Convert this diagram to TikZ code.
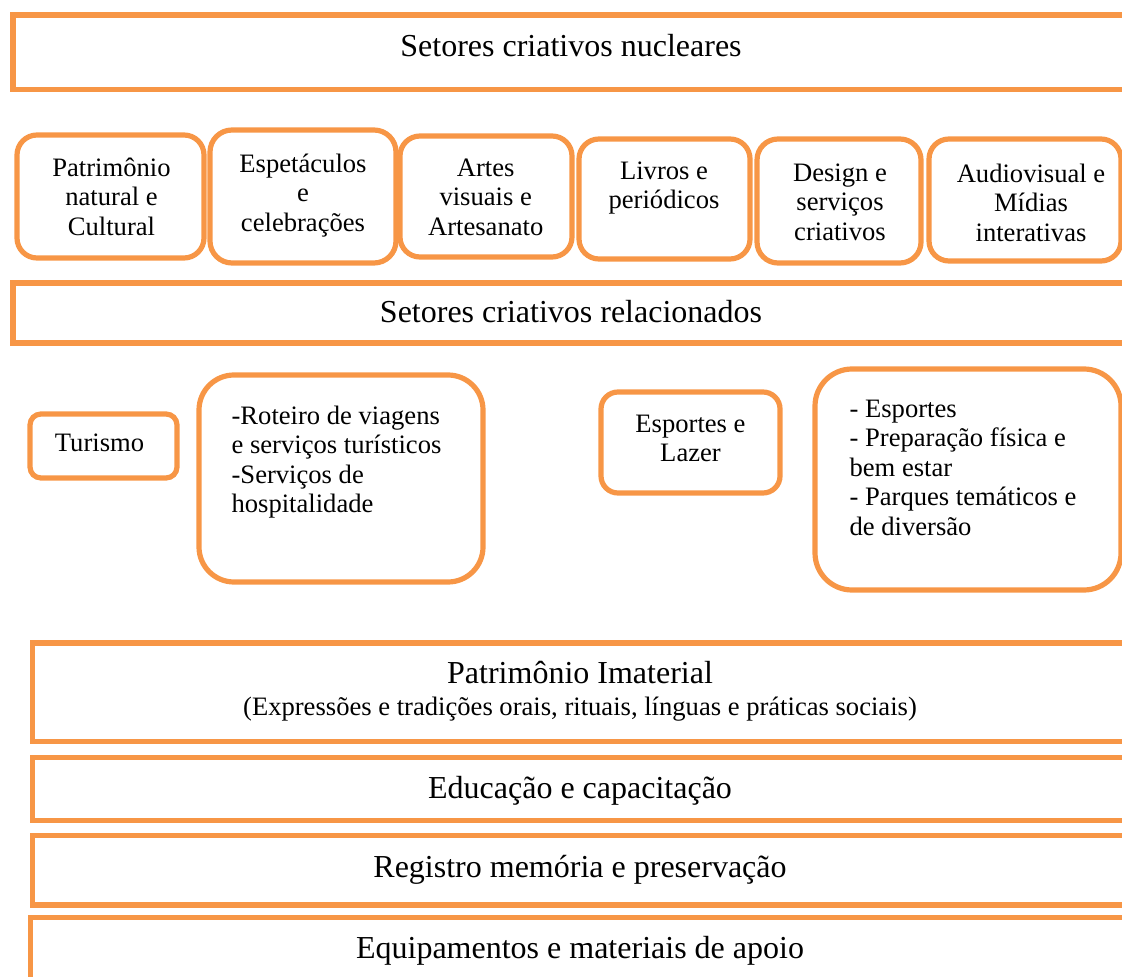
\documentclass[tikz,border=0pt]{standalone}
\usepackage{fontspec}
\setmainfont{Liberation Serif}
\definecolor{orangeline}{HTML}{F79646}
\begin{document}
\begin{tikzpicture}
[ x=0.5pt, y=-0.5pt, line width=2.6pt
, band/.style={rectangle, draw=orangeline, inner sep=0pt}
, sector/.style={rectangle, draw=orangeline, inner sep=0pt, rounded corners=#1*0.5pt}
, boxdim/.style 2 args={minimum width=#1*0.5pt, minimum height=#2*0.5pt}
, bigtext/.style={font=\fontsize{16}{18}\selectfont, inner sep=0pt, anchor=base}
, smalltext/.style={font=\fontsize{13.3}{14.8}\selectfont, inner sep=0pt, anchor=north, align=center}
, listtext/.style={smalltext, anchor=north west, align=left}
]
\clip (0,0) rectangle (1122,977);
% Wide bands:
\node (nucleares) [band, boxdim={1116}{74.5}] at (571,52.25) {};
\node (nuclearestxt) [bigtext] at (571,57) {Setores criativos nucleares};
\node (relacionados) [band, boxdim={1116}{60}] at (571,313) {};
\node (relacionadostxt) [bigtext] at (571,323) {Setores criativos relacionados};
% Core sectors:
\node (patnat) [sector=20, boxdim={187}{123}] at (110.5,196.5) {};
\node (patnattxt) [smalltext] at (111.5,155) {Patrimônio\\natural e\\Cultural};
\node (espet) [sector=22, boxdim={186}{133}] at (303,196.5) {};
\node (espettxt) [smalltext] at (303,151) {Espetáculos\\e\\celebrações};
\node (artes) [sector=20, boxdim={172}{121}] at (486,196.5) {};
\node (artestxt) [smalltext] at (485.7,156) {Artes\\visuais e\\Artesanato};
\node (livros) [sector=20, boxdim={171}{120}] at (664.5,199) {};
\node (livrostxt) [smalltext] at (664,159) {Livros e\\periódicos};
\node (design) [sector=21, boxdim={164}{124}] at (839,201) {};
\node (designtxt) [smalltext] at (840,161) {Design e\\serviços\\criativos};
\node (audio) [sector=20, boxdim={192}{122}] at (1025,200) {};
\node (audiotxt) [smalltext] at (1031,161) {Audiovisual e\\Mídias\\interativas};
% Related sectors:
\node (turismo) [sector=11, boxdim={147}{64}] at (103.5,446) {};
\node (turismotxt) [smalltext, anchor=base] at (99.5,451.7) {Turismo};
\node (roteiro) [sector=35, boxdim={284}{207}] at (341,478.5) {};
\node (roteirotxt) [listtext] at (229,403) {-Roteiro de viagens\\e serviços turísticos\\-Serviços de\\hospitalidade};
\node (lazer) [sector=17, boxdim={179}{101}] at (690.5,442.5) {};
\node (lazertxt) [smalltext] at (690.5,412) {Esportes e\\Lazer};
\node (esportes) [sector=37, boxdim={306}{221}] at (968,479.5) {};
\node (esportestxt) [listtext] at (847,397) {- Esportes\\- Preparação física e\\bem estar\\- Parques temáticos e\\de diversão};
% Lower bands:
\node (imaterial) [band, boxdim={1095}{98.5}] at (580,692.25) {};
\node (imaterialtxt) [bigtext] at (580,683.3) {Patrimônio Imaterial};
\node (imaterialsub) [bigtext, font=\fontsize{13.3}{14.8}\selectfont] at (580,715.7) {(Expressões e tradições orais, rituais, línguas e práticas sociais)};
\node (educacao) [band, boxdim={1095}{63}] at (580,789) {};
\node (educacaotxt) [bigtext] at (580,798.5) {Educação e capacitação};
\node (registro) [band, boxdim={1095}{69.5}] at (580,870.25) {};
\node (registrotxt) [bigtext] at (580,877) {Registro memória e preservação};
\node (equip) [band, boxdim={1097}{67}] at (579,951) {};
\node (equiptxt) [bigtext] at (580,958) {Equipamentos e materiais de apoio};
\end{tikzpicture}
\end{document}
